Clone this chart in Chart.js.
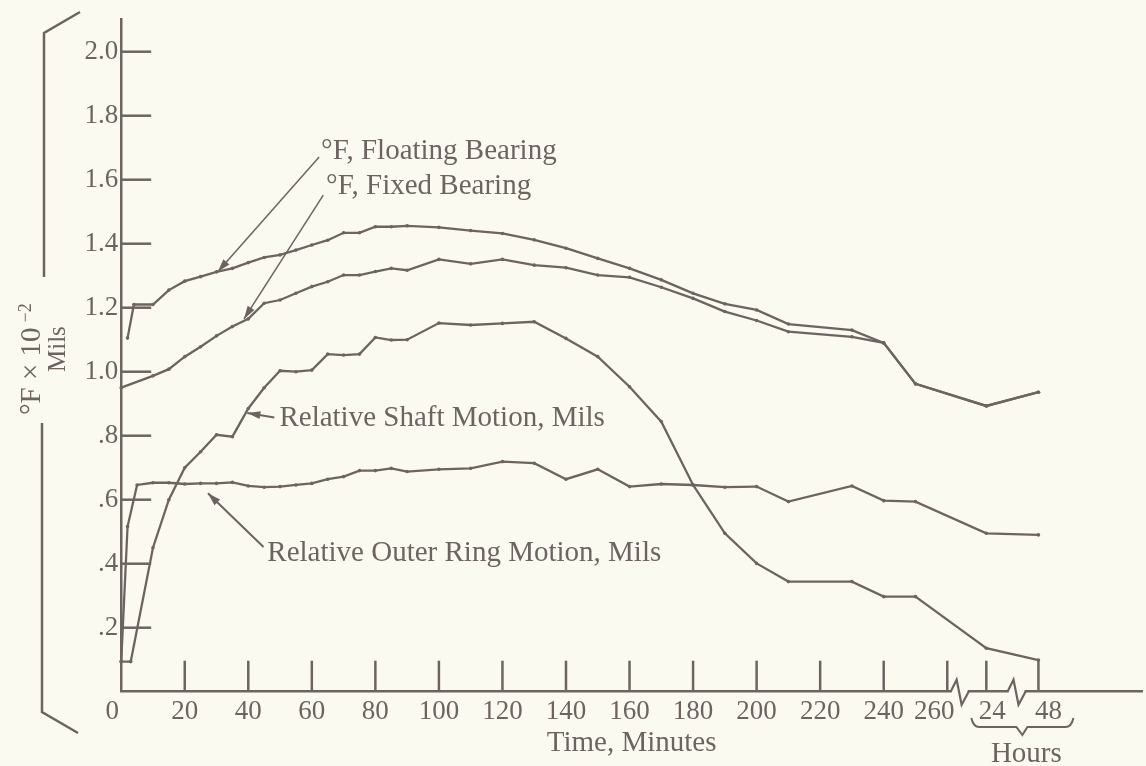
<!DOCTYPE html>
<html>
<head>
<meta charset="utf-8">
<script src="https://cdn.jsdelivr.net/npm/chart.js@4.4.0/dist/chart.umd.min.js"></script>
<style>
  html, body { margin: 0; padding: 0; background: #fbfaf1; }
  #wrap { width: 1146px; height: 766px; }
</style>
</head>
<body>
<div id="wrap"><canvas id="chart" width="1146" height="766"></canvas></div>
<script>
// time in minutes; '24h' and '48h' sit past the axis break
const floatingTimes = [2, 4, 10, 15, 20, 25, 30, 35, 40, 45, 50, 55, 60, 65, 70, 75, 80, 85, 90,
  100, 110, 120, 130, 140, 150, 160, 170, 180, 190, 200, 210, 230, 240, 250, '24h', '48h'];
const floatingValues = [1.105, 1.21, 1.21, 1.255, 1.283, 1.297, 1.312, 1.323, 1.341, 1.357, 1.365, 1.38, 1.396, 1.411, 1.434, 1.434, 1.453, 1.453, 1.456,
  1.451, 1.441, 1.432, 1.412, 1.386, 1.354, 1.323, 1.287, 1.245, 1.212, 1.193, 1.149, 1.13, 1.09, 0.962, 0.893, 0.936];

const fixedTimes = [0, 10, 15, 20, 25, 30, 35, 40, 45, 50, 55, 60, 65, 70, 75, 80, 85, 90,
  100, 110, 120, 130, 140, 150, 160, 170, 180, 190, 200, 210, 230, 240, 250, '24h', '48h'];
const fixedValues = [0.95, 0.987, 1.008, 1.047, 1.078, 1.112, 1.141, 1.165, 1.214, 1.224, 1.245, 1.266, 1.281, 1.302, 1.302, 1.313, 1.323, 1.317,
  1.351, 1.337, 1.351, 1.333, 1.325, 1.302, 1.295, 1.264, 1.229, 1.188, 1.16, 1.125, 1.109, 1.09, 0.962, 0.893, 0.936];

const shaftTimes = [0, 3, 10, 15, 20, 25, 30, 35, 40, 45, 50, 55, 60, 65, 70, 75, 80, 85, 90,
  100, 110, 120, 130, 140, 150, 160, 170, 180, 190, 200, 210, 230, 240, 250, '24h', '48h'];
const shaftValues = [0.094, 0.094, 0.45, 0.60, 0.70, 0.75, 0.803, 0.797, 0.885, 0.95, 1.003, 1.0, 1.005, 1.055, 1.052, 1.055, 1.107, 1.099, 1.10,
  1.152, 1.146, 1.151, 1.156, 1.104, 1.047, 0.953, 0.844, 0.646, 0.495, 0.401, 0.344, 0.344, 0.297, 0.297, 0.136, 0.099];

const ringTimes = [0, 2, 5, 10, 15, 20, 25, 30, 35, 40, 45, 50, 55, 60, 65, 70, 75, 80, 85, 90,
  100, 110, 120, 130, 140, 150, 160, 170, 180, 190, 200, 210, 230, 240, 250, '24h', '48h'];
const ringValues = [0.094, 0.516, 0.646, 0.653, 0.653, 0.649, 0.651, 0.651, 0.654, 0.643, 0.639, 0.641, 0.646, 0.651, 0.664, 0.672, 0.691, 0.691, 0.698, 0.688,
  0.695, 0.698, 0.719, 0.714, 0.664, 0.695, 0.641, 0.649, 0.646, 0.639, 0.641, 0.594, 0.643, 0.597, 0.594, 0.495, 0.49];

const xTickTimes = [0, 20, 40, 60, 80, 100, 120, 140, 160, 180, 200, 220, 240, 260, '24h', '48h'];
const xTickLabels = ['0', '20', '40', '60', '80', '100', '120', '140', '160', '180', '200', '220', '240', '260', '24', '48'];
const yTickValues = [0.2, 0.4, 0.6, 0.8, 1.0, 1.2, 1.4, 1.6, 1.8, 2.0];
const yTickLabels = ['.2', '.4', '.6', '.8', '1.0', '1.2', '1.4', '1.6', '1.8', '2.0'];

// where the hour marks land on the (broken) minute axis
const hourAxis = { '24h': 272.3, '48h': 288.7 };
const toAxis = t => (typeof t === 'string' ? hourAxis[t] : t);

const ink = '#6d6461';
const bg = '#fbfaf1';
const serif = '"Liberation Serif", "DejaVu Serif", serif';
// labels near the breaks are set a little off their ticks in the original
const labelNudge = { '0': -9, '260': -13, '24': 6, '48': 10 };

function series(times, values) {
  return times.map((t, i) => ({ x: toAxis(t), y: values[i] }));
}

function lineSet(data) {
  return {
    data: data,
    borderColor: ink,
    borderWidth: 2.3,
    pointRadius: 1.8,
    pointBackgroundColor: ink,
    pointBorderWidth: 0,
    tension: 0,
    fill: false,
    clip: 6
  };
}

// annotation text and arrows, in data coordinates
const notes = [
  { text: '°F, Floating Bearing', at: [62.9, 1.687], tail: [62.3, 1.671], tip: [30.4, 1.3125], w: 1.5 },
  { text: '°F, Fixed Bearing', at: [64.5, 1.58], tail: [63.6, 1.552], tip: [38.65, 1.165], w: 1.5 },
  { text: 'Relative Shaft Motion, Mils', at: [49.8, 0.855], tail: [48.2, 0.857], tip: [39.7, 0.871], w: 2 },
  { text: 'Relative Outer Ring Motion, Mils', at: [46.0, 0.433], tail: [44.8, 0.452], tip: [27.3, 0.62], w: 2 }
];

function arrow(ctx, x1, y1, x2, y2, w) {
  ctx.lineWidth = w;
  ctx.beginPath();
  ctx.moveTo(x1, y1);
  ctx.lineTo(x2, y2);
  ctx.stroke();
  const a = Math.atan2(y2 - y1, x2 - x1);
  const len = 13, half = 4;
  ctx.beginPath();
  ctx.moveTo(x2, y2);
  ctx.lineTo(x2 - len * Math.cos(a) + half * Math.sin(a), y2 - len * Math.sin(a) - half * Math.cos(a));
  ctx.lineTo(x2 - len * Math.cos(a) - half * Math.sin(a), y2 - len * Math.sin(a) + half * Math.cos(a));
  ctx.closePath();
  ctx.fill();
}

const decor = {
  id: 'decor',
  beforeDraw(chart) {
    const ctx = chart.ctx;
    ctx.save();
    ctx.fillStyle = bg;
    ctx.fillRect(0, 0, chart.width, chart.height);
    ctx.restore();
  },
  afterDraw(chart) {
    const ctx = chart.ctx;
    const xs = chart.scales.x, ys = chart.scales.y;
    const y0 = ys.bottom, x0 = xs.left;
    ctx.save();
    ctx.strokeStyle = ink;
    ctx.fillStyle = ink;
    ctx.lineCap = 'butt';

    // inward tick marks
    ctx.lineWidth = 2.5;
    yTickValues.forEach(v => {
      const py = ys.getPixelForValue(v);
      ctx.beginPath(); ctx.moveTo(x0, py); ctx.lineTo(x0 + 30, py); ctx.stroke();
    });
    xTickTimes.slice(1).forEach(t => {
      const px = xs.getPixelForValue(toAxis(t));
      ctx.beginPath(); ctx.moveTo(px, y0); ctx.lineTo(px, y0 - 31); ctx.stroke();
    });

    // x tick labels
    ctx.font = '27px ' + serif;
    ctx.textAlign = 'center';
    ctx.textBaseline = 'alphabetic';
    xTickTimes.forEach((t, i) => {
      const lab = xTickLabels[i];
      ctx.fillText(lab, xs.getPixelForValue(toAxis(t)) + (labelNudge[lab] || 0), y0 + 27);
    });

    // axis breaks
    [263.9, 281.8].forEach(b => {
      const cx = xs.getPixelForValue(b);
      ctx.fillStyle = bg;
      ctx.fillRect(cx - 8, y0 - 3, 16, 6);
      ctx.fillStyle = ink;
      ctx.lineWidth = 2.2;
      ctx.beginPath();
      ctx.moveTo(cx - 9, y0);
      ctx.lineTo(cx - 3, y0 - 12);
      ctx.lineTo(cx + 2, y0 + 13);
      ctx.lineTo(cx + 9, y0);
      ctx.stroke();
    });

    // brace under the hour labels
    const p24 = xs.getPixelForValue(hourAxis['24h']);
    const p48 = xs.getPixelForValue(hourAxis['48h']);
    const bl = p24 - 15, br = p48 + 35, tipX = (p24 + p48) / 2 + 10;
    ctx.lineWidth = 2;
    ctx.beginPath();
    ctx.moveTo(bl, 718);
    ctx.quadraticCurveTo(bl + 2, 727, bl + 8, 727);
    ctx.lineTo(tipX - 6, 727);
    ctx.lineTo(tipX, 735);
    ctx.lineTo(tipX + 5, 727);
    ctx.lineTo(br - 8, 727);
    ctx.quadraticCurveTo(br - 2, 727, br, 718);
    ctx.stroke();
    ctx.font = '29px ' + serif;
    ctx.textAlign = 'center';
    ctx.fillText('Hours', tipX + 4, 762);

    // left bracket around the y title
    ctx.lineWidth = 2.5;
    ctx.beginPath();
    ctx.moveTo(80, 12); ctx.lineTo(44, 33); ctx.lineTo(44, 277);
    ctx.moveTo(42, 423); ctx.lineTo(42, 712); ctx.lineTo(78, 733);
    ctx.stroke();

    // rotated y title
    ctx.save();
    ctx.translate(40, 415);
    ctx.rotate(-Math.PI / 2);
    ctx.textAlign = 'left';
    ctx.font = '29px ' + serif;
    ctx.fillText('°F × 10', 0, 0);
    const w = ctx.measureText('°F × 10').width;
    ctx.font = '18px ' + serif;
    ctx.fillText('−2', w + 5, -9);
    ctx.restore();
    ctx.save();
    ctx.translate(65, 372);
    ctx.rotate(-Math.PI / 2);
    ctx.textAlign = 'left';
    ctx.font = '25px ' + serif;
    ctx.fillText('Mils', 0, 0);
    ctx.restore();

    // curve annotations
    notes.forEach(n => {
      ctx.font = '29px ' + serif;
      ctx.textAlign = 'left';
      ctx.textBaseline = 'middle';
      ctx.fillText(n.text, xs.getPixelForValue(n.at[0]), ys.getPixelForValue(n.at[1]));
      arrow(ctx,
        xs.getPixelForValue(n.tail[0]), ys.getPixelForValue(n.tail[1]),
        xs.getPixelForValue(n.tip[0]), ys.getPixelForValue(n.tip[1]), n.w);
    });
    ctx.restore();
  }
};

new Chart(document.getElementById('chart'), {
  type: 'line',
  data: {
    datasets: [
      lineSet(series(floatingTimes, floatingValues)),
      lineSet(series(fixedTimes, fixedValues)),
      lineSet(series(shaftTimes, shaftValues)),
      lineSet(series(ringTimes, ringValues))
    ]
  },
  options: {
    responsive: false,
    animation: false,
    devicePixelRatio: 1,
    layout: { padding: { top: 19.7, right: 0, bottom: 0, left: 0 } },
    plugins: { legend: { display: false }, tooltip: { enabled: false } },
    scales: {
      x: {
        type: 'linear',
        min: 0,
        max: 321.3,
        afterFit: s => { s.height = 74.3; },
        afterBuildTicks: s => { s.ticks = xTickTimes.map(t => ({ value: toAxis(t) })); },
        grid: { display: false, drawTicks: false },
        border: { display: true, color: ink, width: 2.5 },
        ticks: { display: false },
        title: {
          display: true,
          text: 'Time, Minutes',
          color: ink,
          font: { family: serif, size: 29 },
          padding: { top: 0, bottom: 5 }
        }
      },
      y: {
        min: 0,
        max: 2.1,
        afterFit: s => { s.width = 121.2; },
        afterBuildTicks: s => { s.ticks = yTickValues.map(v => ({ value: v })); },
        grid: { display: false, drawTicks: false },
        border: { display: true, color: ink, width: 2.5 },
        ticks: {
          autoSkip: false,
          padding: 3,
          color: ink,
          font: { family: serif, size: 27 },
          callback: (v, i) => yTickLabels[i]
        }
      }
    }
  },
  plugins: [decor]
});
</script>
</body>
</html>
